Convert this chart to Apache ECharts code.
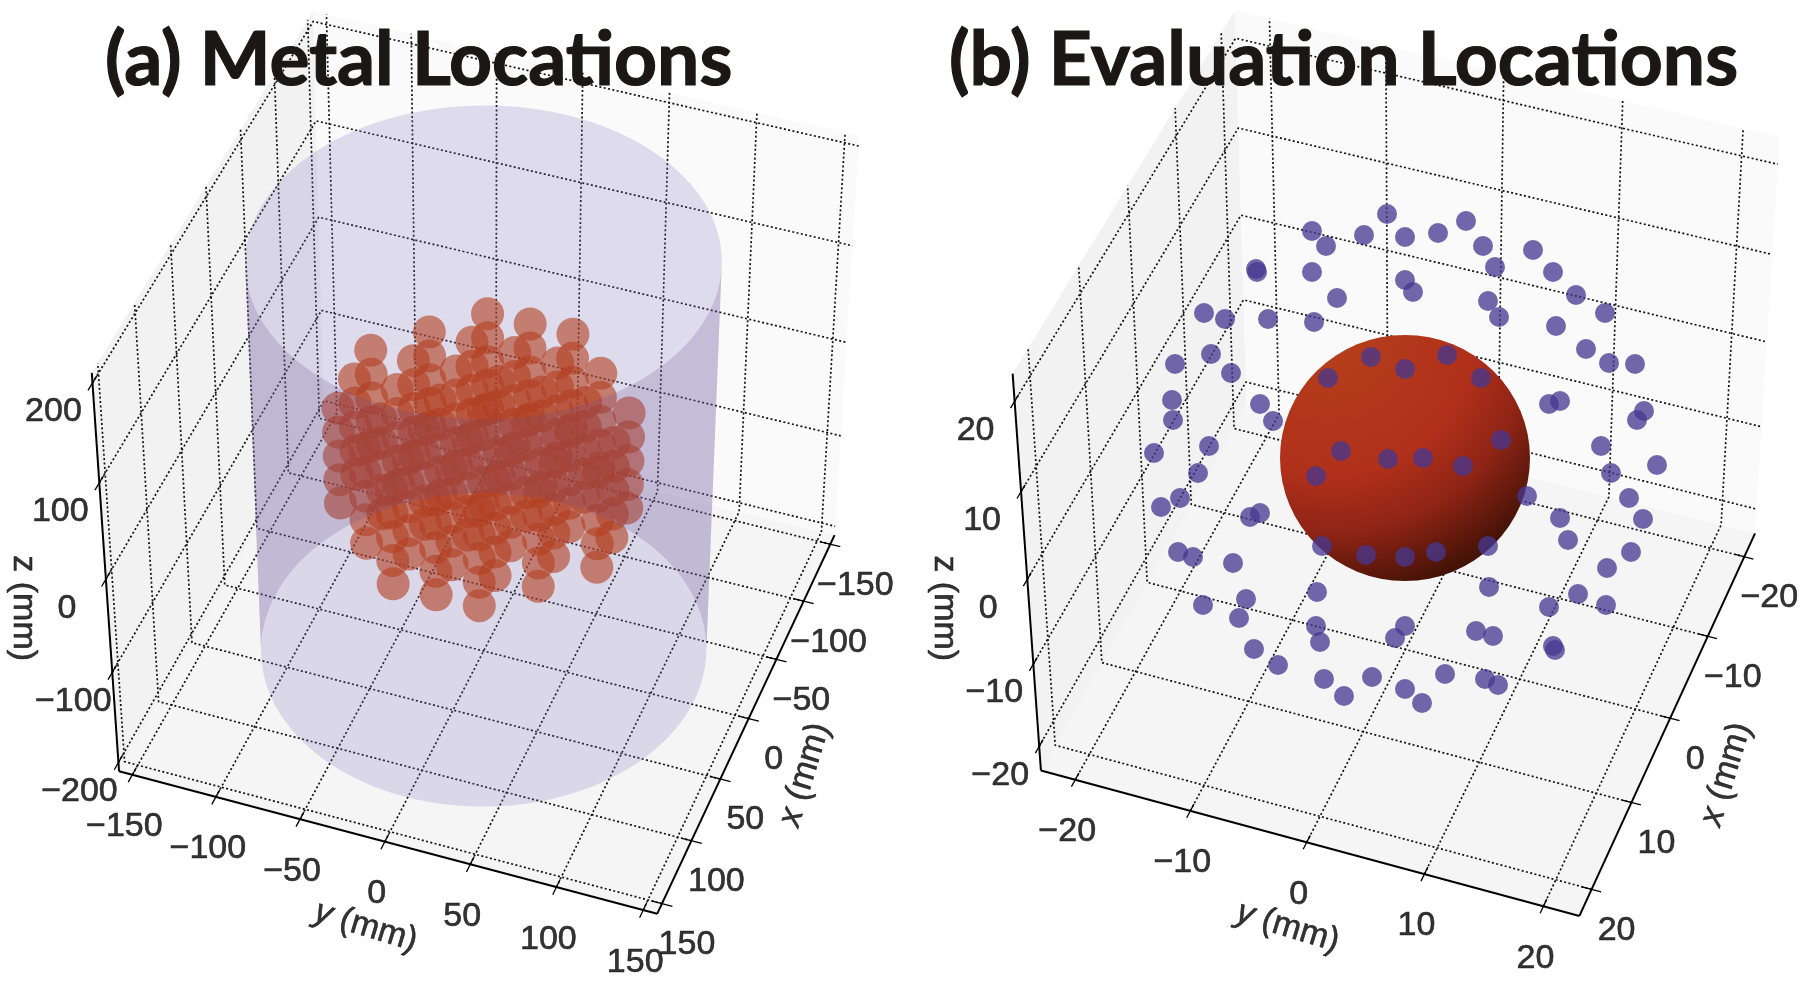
<!DOCTYPE html>
<html>
<head>
<meta charset="utf-8">
<title>Metal and evaluation locations</title>
<script src="https://cdn.jsdelivr.net/npm/echarts@6/dist/echarts.min.js"></script>
<style>
html, body { margin: 0; background: #fff; }
#chart { width: 1800px; height: 982px; }
</style>
</head>
<body>
<div id="chart"></div>
<script>
// tick labels (mm)
const metalXTicks = [-150, -100, -50, 0, 50, 100, 150]
const metalYTicks = [-150, -100, -50, 0, 50, 100, 150]
const metalZTicks = [-200, -100, 0, 100, 200]
const evalTicks = [-20, -10, 0, 10, 20]

// panel (a): one layer of the metal lattice (mm), repeated on each z level
const metalX = [
  -75, -75, -75,
  -50, -50, -50, -50, -50,
  -25, -25, -25, -25, -25, -25, -25,
  0, 0, 0, 0, 0, 0, 0,
  25, 25, 25, 25, 25, 25, 25,
  50, 50, 50, 50, 50,
  75, 75, 75
]
const metalY = [
  -25, 0, 25,
  -50, -25, 0, 25, 50,
  -75, -50, -25, 0, 25, 50, 75,
  -75, -50, -25, 0, 25, 50, 75,
  -75, -50, -25, 0, 25, 50, 75,
  -50, -25, 0, 25, 50,
  -25, 0, 25
]
const metalZ = [50, 25, 0, -25, -50]
const cylinderRadius = 126
const cylinderZ = [204, -204]

// panel (b): evaluation points, position in the view plane, origin on the sphere
const evalU = [
  -3.6, -18.6, -15.8, -8.2, 0, 6.6, 12.2, 15.6, 25.6, 18, 29.6, -29.8, -29.6, -18.6, 0, 1.6,
  -13.6, 16.6, 34.2, 18.8, 40, -40.2, -36, -27.4, -18.2, 30.2, 36.2, -38.8, -46, -34.8, 40.8, 46,
  -46.6, -46.4, -29, -26.4, 28.8, 31, 47.8, 46.4, 39.2, -39.2, -50.2, 50.4, -41.4, 41.2,
  -6.8, 0, 8.4, -15.4, 15.2, 19.2, -12.8, -3.4, 3.6, 11.6, -17.8,
  -45, 44.8, 24.4, -48.8, -31, -29, 31, 47.6, 32.6, -16.6, -7.8, 0, 6.2, 16.6, -45.4, -42.4, -34.4,
  45.2, 40.4, 16.8, -17.6, 34.6, -31.8, -40.4, 28.8, 40.2, -33.2, -17.8, 0, 14.2, -2, 17.6, -17,
  -30.2, 29.6, 30, -25.4, -16.2, -6.6, 8, 16, 18.6, 0, -12.2, 3.4
]
const evalV = [
  48.8, 45.4, 42.4, 44.6, 44.2, 45, 47.4, 42.4, 41.6, 38.2, 37.2, 37.8, 37.2, 37.2, 35.6, 33.2,
  32, 31.4, 32.6, 28.2, 29, 29, 27.8, 27.8, 27.2, 26.4, 21.8, 20.8, 18.8, 17, 19, 18.8,
  11.6, 7.6, 10.8, 7.4, 10.8, 11.4, 9.4, 7.6, 2.4, 2.4, 1, -1.4, -3, -3,
  20.2, 17.8, 20.6, 16, 16, 3.6, 1.4, -0.2, 0, -1.6, -3.6,
  -8, -8, -7.6, -9.8, -11.8, -11, -12, -12.2, -16.4, -17.6, -19.4, -19.8, -18.8, -17.6, -18.8, -19.8, -21,
  -18.8, -22, -25.8, -26.8, -27.2, -28.2, -29.4, -29.8, -29.4, -32, -33.6, -33.6, -34.6, -36, -35.6, -36.8,
  -38.2, -37.6, -38.4, -41.4, -44.2, -43.8, -43.2, -44.2, -45.4, -46.2, -47.6, -49
]

const fontArial = '"Liberation Sans", Arial, sans-serif'
const series = []

// fit a projective camera from the box corners seen in the picture
function fitCamera(limXY, limZ, seen) {
  const corners = [[1, -1, -1], [1, 1, -1], [-1, 1, -1], [-1, -1, -1], [1, -1, 1], [-1, -1, 1], [-1, 1, 1]]
  const rows = []
  const rhs = []
  corners.forEach((c, i) => {
    const u = seen[i][0] / 1000
    const v = seen[i][1] / 1000
    rows.push([c[0], c[1], c[2], 1, 0, 0, 0, 0, -u * c[0], -u * c[1], -u * c[2]])
    rhs.push(u)
    rows.push([0, 0, 0, 0, c[0], c[1], c[2], 1, -v * c[0], -v * c[1], -v * c[2]])
    rhs.push(v)
  })
  const n = 11
  const m = []
  for (let i = 0; i < n; i++) {
    m.push([])
    for (let j = 0; j < n; j++) {
      m[i].push(rows.reduce((s, r) => s + r[i] * r[j], 0))
    }
    m[i].push(rows.reduce((s, r, k) => s + r[i] * rhs[k], 0))
  }
  for (let i = 0; i < n; i++) {
    let best = i
    for (let k = i + 1; k < n; k++) {
      if (Math.abs(m[k][i]) > Math.abs(m[best][i])) best = k
    }
    const tmp = m[i]; m[i] = m[best]; m[best] = tmp
    for (let k = 0; k < n; k++) {
      if (k === i) continue
      const f = m[k][i] / m[i][i]
      for (let j = i; j <= n; j++) m[k][j] -= f * m[i][j]
    }
  }
  const p = m.map((r, i) => r[n] / r[i])
  return function (x, y, z) {
    const a = x / limXY
    const b = y / limXY
    const c = z / limZ
    const w = p[8] * a + p[9] * b + p[10] * c + 1
    return [
      1000 * (p[0] * a + p[1] * b + p[2] * c + p[3]) / w,
      1000 * (p[4] * a + p[5] * b + p[6] * c + p[7]) / w
    ]
  }
}

function polygon(points, fill, opacity, z) {
  series.push({
    type: 'custom',
    coordinateSystem: 'cartesian2d',
    silent: true,
    z: z,
    clip: false,
    data: [[0, 0]],
    renderItem: function (params, api) {
      return {
        type: 'polygon',
        shape: { points: points.map(q => api.coord(q)) },
        style: { fill: fill, opacity: opacity }
      }
    }
  })
}

function segment(a, b, width) {
  series.push({
    type: 'line',
    silent: true,
    symbol: 'none',
    z: 8,
    data: [a, b],
    lineStyle: { color: '#000', width: width }
  })
}

function polyline(points) {
  series.push({
    type: 'line',
    silent: true,
    symbol: 'none',
    z: 3,
    data: points,
    lineStyle: { color: '#111', width: 1.7, type: [2, 2.4] }
  })
}

function text(label, at, dx, dy, rotate) {
  const labelFont = { fontFamily: fontArial, fontSize: 34, color: '#000', textBorderColor: '#000', textBorderWidth: 0.6 }
  series.push({
    type: 'scatter',
    silent: true,
    symbolSize: 1,
    itemStyle: { color: 'transparent' },
    z: 9,
    data: [[at[0] + dx, at[1] + dy]],
    label: {
      show: true,
      position: 'inside',
      rotate: rotate || 0,
      formatter: label,
      rich: {
        t: labelFont,
        i: Object.assign({}, labelFont, { fontStyle: 'italic' })
      }
    }
  })
}

function minusSign(v) {
  return '{t|' + String(v).replace('-', '\u2212') + '}'
}

// box, grid lines, ticks and labels of one panel
function drawBox(cam, L, Z, xTicks, yTicks, zTicks, tick) {
  polygon([cam(L, -L, -Z), cam(L, L, -Z), cam(-L, L, -Z), cam(-L, -L, -Z)], '#f5f5f5', 1, 1)
  polygon([cam(L, -L, -Z), cam(-L, -L, -Z), cam(-L, -L, Z), cam(L, -L, Z)], '#f2f2f2', 1, 1)
  polygon([cam(-L, -L, -Z), cam(-L, L, -Z), cam(-L, L, Z), cam(-L, -L, Z)], '#fafafa', 1, 1)

  xTicks.forEach(v => {
    polyline([cam(v, L, -Z), cam(v, -L, -Z), cam(v, -L, Z)])
    segment(cam(v, L - tick, -Z), cam(v, L + tick, -Z), 1.3)
    text(minusSign(v), cam(v, L, -Z), 25, 41)
  })
  yTicks.forEach(v => {
    polyline([cam(L, v, -Z), cam(-L, v, -Z), cam(-L, v, Z)])
    segment(cam(L - tick, v, -Z), cam(L + tick, v, -Z), 1.3)
    text(minusSign(v), cam(L, v, -Z), -8, 52)
  })
  zTicks.forEach(v => {
    polyline([cam(L, -L, v), cam(-L, -L, v), cam(-L, L, v)])
    segment(cam(L - tick, -L, v), cam(L + tick, -L, v), 1.3)
    text(minusSign(v), cam(L, -L, v), -39, 29)
  })

  segment(cam(L, -L, -Z), cam(L, L, -Z), 2)
  segment(cam(L, L, -Z), cam(-L, L, -Z), 2)
  segment(cam(L, -L, -Z), cam(L, -L, Z), 2)

  text('{t|z (mm)}', cam(L, -L, 0), -83, 29, -90)
  text('{i|x}{t| (mm)}', cam(0, L, -Z), 56, 56, 73)
  text('{i|y}{t| (mm)}', cam(L, 0, -Z), -19, 85, -17)
}

// panel (a)
const camA = fitCamera(158, 210, [[119, 770], [657, 915], [835, 533], [324, 412], [92, 373], [313, 10], [859, 137]])
drawBox(camA, 158, 210, metalXTicks, metalYTicks, metalZTicks, 6)

function circle3d(z) {
  const pts = []
  for (let deg = 0; deg < 360; deg += 3) {
    const t = deg * Math.PI / 180
    pts.push(camA(cylinderRadius * Math.cos(t), cylinderRadius * Math.sin(t), z))
  }
  return pts
}
const lavender = 'rgb(130,120,190)'
const capTop = circle3d(cylinderZ[0])
const capBottom = circle3d(cylinderZ[1])
function halfOf(pts, lower) {
  const sorted = pts.slice().sort((a, b) => a[0] - b[0])
  const mid = (sorted[0][1] + sorted[sorted.length - 1][1]) / 2
  return sorted.filter((q, i) => i === 0 || i === sorted.length - 1 || (lower ? q[1] > mid : q[1] < mid))
}
const band = halfOf(capTop, true).concat(halfOf(capBottom, false).reverse())
polygon(capTop, lavender, 0.235, 4)
polygon(capBottom, lavender, 0.235, 4)
polygon(band, lavender, 0.26, 4)
polygon(band, 'rgb(110,80,140)', 0.2, 6)

const metalPoints = []
metalZ.forEach(z => {
  metalX.forEach((x, i) => metalPoints.push(camA(x, metalY[i], z)))
})
series.push({
  type: 'scatter',
  silent: true,
  symbolSize: 33,
  z: 5,
  data: metalPoints,
  itemStyle: { color: 'rgb(178,62,32)', opacity: 0.6 }
})

// panel (b)
const camB = fitCamera(23, 23, [[1041, 771], [1579, 916], [1755, 533], [1247, 406], [1013, 373], [1234, 11], [1780, 137]])
drawBox(camB, 23, 23, evalTicks, evalTicks, evalTicks, 0.8)

series.push({
  type: 'scatter',
  silent: true,
  xAxisIndex: 1,
  yAxisIndex: 1,
  symbolSize: [250, 246],
  z: 5,
  data: [[0, 0]],
  itemStyle: {
    opacity: 1,
    color: {
      type: 'radial', x: 0.2, y: 0, r: 1.15,
      colorStops: [
        { offset: 0, color: '#b5401c' },
        { offset: 0.5, color: '#b0301a' },
        { offset: 0.7, color: '#8f2416' },
        { offset: 0.88, color: '#541609' },
        { offset: 1, color: '#300d07' }
      ]
    }
  }
})
series.push({
  type: 'scatter',
  silent: true,
  xAxisIndex: 1,
  yAxisIndex: 1,
  symbolSize: 20,
  z: 6,
  data: evalU.map((u, i) => [u, evalV[i]]),
  itemStyle: { color: 'rgb(70,55,145)', opacity: 0.76 }
})

const titleStyle = { fontFamily: 'Lato', fontWeight: 'bold', fontSize: 75, color: '#1a1714', textBorderColor: '#1a1714', textBorderWidth: 1.2 }
const myChart = echarts.init(document.getElementById('chart'))
myChart.setOption({
  animation: false,
  title: [
    { text: '(a) Metal Locations', left: 100, top: 18, textStyle: titleStyle, z: 10 },
    { text: '(b) Evaluation Locations', left: 944, top: 18, textStyle: titleStyle, z: 10 }
  ],
  grid: [
    { left: 0, right: 0, top: 0, bottom: 0 },
    { left: 0, right: 0, top: 0, bottom: 0 }
  ],
  xAxis: [
    { type: 'value', min: 0, max: 1800, show: false, gridIndex: 0 },
    { type: 'value', min: -281, max: 79, show: false, gridIndex: 1 }
  ],
  yAxis: [
    { type: 'value', min: 0, max: 982, inverse: true, show: false, gridIndex: 0 },
    { type: 'value', min: -104.8, max: 91.6, show: false, gridIndex: 1 }
  ],
  series: series
})
window.addEventListener('resize', () => {
  myChart.resize()
})
</script>
</body>
</html>
